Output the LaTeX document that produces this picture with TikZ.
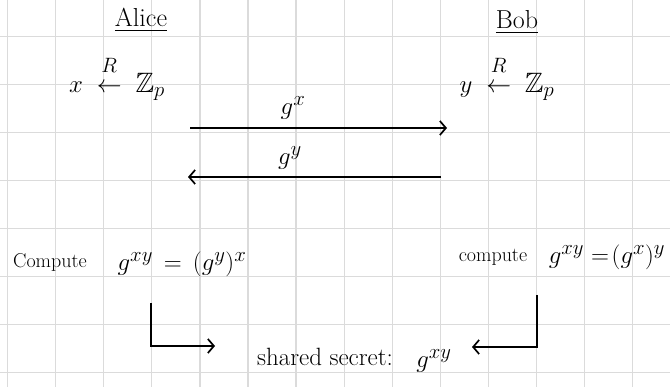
\documentclass[tikz,border=0pt]{standalone}
\usepackage{amsmath,amssymb}
\usetikzlibrary{arrows.meta}
\newcommand{\rnd}{\overset{\raisebox{5pt}{$\scriptstyle R$}}{\leftarrow}}
\begin{document}
\begin{tikzpicture}[x=1pt,y=-1pt,
  gridline/.style={draw=black!14, line width=1.3pt},
  msg/.style={line width=1.7pt, -{Straight Barb[length=6pt,width=14pt,line width=1.7pt]}},
  lbl/.style={inner sep=0pt, anchor=center},
  mathlbl/.style={lbl, font=\fontsize{28}{32}\selectfont},
  partylbl/.style={lbl, font=\fontsize{26}{30}\selectfont},
  wordlbl/.style={lbl, font=\fontsize{20}{24}\selectfont},
  swordlbl/.style={lbl, font=\fontsize{25}{28}\selectfont},
]
\useasboundingbox (0,0) rectangle (670,387);
\fill[white] (0,0) rectangle (670,387);
\foreach \i in {0,...,13} \draw[gridline] ({7.5+48.1*\i},0) -- ({7.5+48.1*\i},387);
\foreach \j in {0,...,7} \draw[gridline] (0,{36.5+48*\j}) -- (670,{36.5+48*\j});

% parties
\node[partylbl] (alice) at (141,20) {\underline{Alice}};
\node[partylbl] (bob) at (517,22) {\underline{Bob}};
\node[mathlbl] (ax) at (117,78) {$x \;\rnd\; \mathbb{Z}_p$};
\node[mathlbl] (by) at (507,78) {$y \;\rnd\; \mathbb{Z}_p$};

% messages
\coordinate (m1s) at (190,128);
\coordinate (m1e) at (447,128);
\coordinate (m2s) at (441,177);
\coordinate (m2e) at (188,177);
\draw[msg] (m1s) -- (m1e);
\draw[msg] (m2s) -- (m2e);
\node[mathlbl] (gx) at (293,108) {$g^{x}$};
\node[mathlbl] (gy) at (290,158) {$g^{y}$};

% computations
\node[wordlbl] (ca) at (50,262) {Compute};
\node[mathlbl] (cam) at (182,264) {$g^{xy} \,=\, (g^{y})^{x}$};
\node[wordlbl] (cb) at (493,257) {compute};
\node[mathlbl] (cbm) at (607,257) {$g^{xy} =\!(g^{x})^{y}$};

% shared secret
\node[swordlbl] (ss) at (325,357) {shared secret:};
\node[mathlbl] (ssm) at (434,361) {$g^{xy}$};

\coordinate (la) at (151,303);
\coordinate (lb) at (215,346);
\coordinate (ra) at (537,295);
\coordinate (rb) at (472,347);
\draw[msg] (la) |- (lb);
\draw[msg] (ra) |- (rb);
\end{tikzpicture}
\end{document}
